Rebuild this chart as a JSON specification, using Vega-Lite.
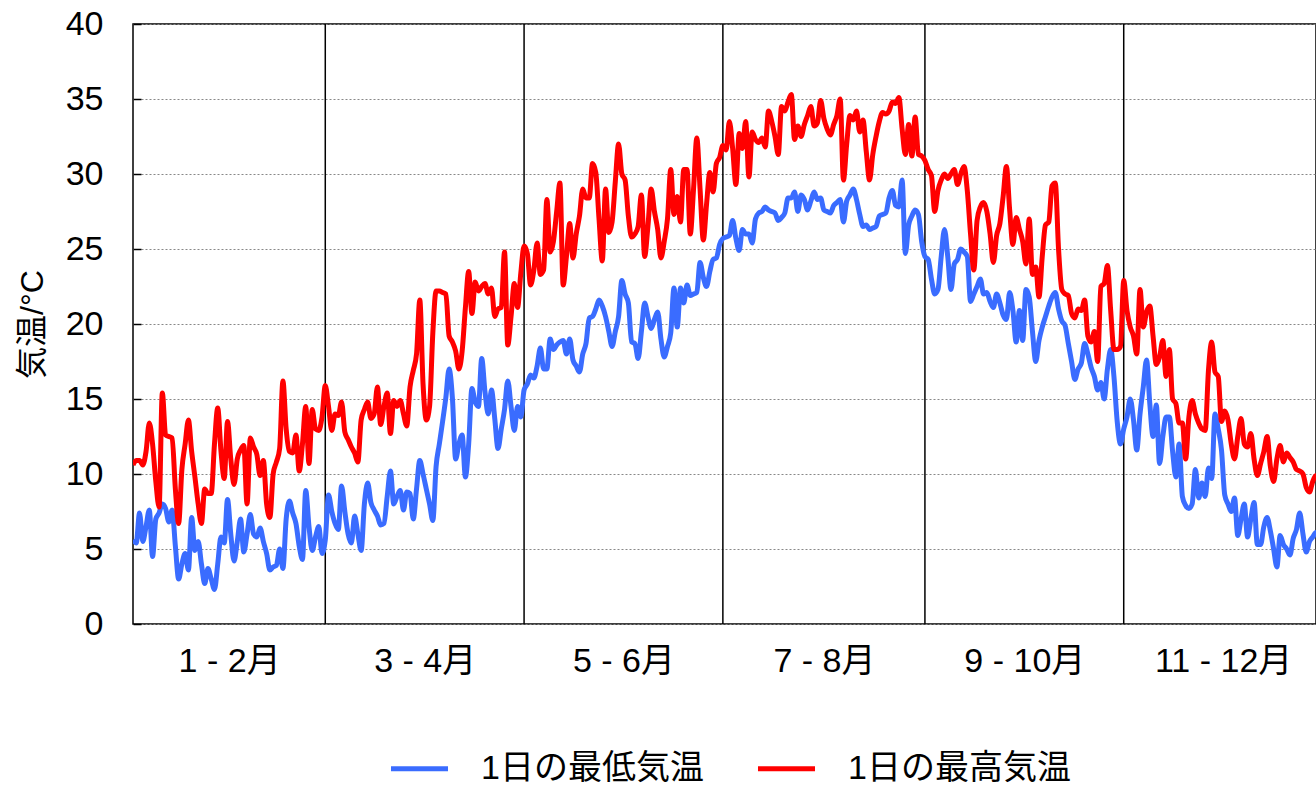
{
"$schema": "https://vega.github.io/schema/vega-lite/v6.json",
"width": 1183, "height": 600,
"autosize": {"type": "none"},
"padding": {"left": 133, "top": 24, "right": 0, "bottom": 163},
"background": "white",
"config": {"view": {"stroke": "black", "strokeWidth": 1.5}, "font": "Liberation Sans, Noto Sans CJK JP"},
"datasets": {
"seps": [{"d":59},{"d":120},{"d":181},{"d":243},{"d":304}],
"temps": [
{"d":0,"lo":5.6,"hi":10.6},{"d":1,"lo":5.4,"hi":10.9},{"d":2,"lo":7.4,"hi":10.9},{"d":3,"lo":5.5,"hi":10.6},{"d":4,"lo":6.5,"hi":11.5},{"d":5,"lo":7.6,"hi":13.4},{"d":6,"lo":4.5,"hi":12.0},{"d":7,"lo":7.0,"hi":9.5},{"d":8,"lo":7.4,"hi":7.8},{"d":9,"lo":8.0,"hi":15.4},
{"d":10,"lo":7.7,"hi":12.6},{"d":11,"lo":6.8,"hi":12.5},{"d":12,"lo":7.6,"hi":12.4},{"d":13,"lo":5.2,"hi":9.0},{"d":14,"lo":3.0,"hi":6.7},{"d":15,"lo":4.0,"hi":10.3},{"d":16,"lo":4.7,"hi":12.0},{"d":17,"lo":3.6,"hi":13.6},{"d":18,"lo":7.1,"hi":11.5},{"d":19,"lo":4.9,"hi":9.8},
{"d":20,"lo":5.5,"hi":8.0},{"d":21,"lo":4.0,"hi":6.7},{"d":22,"lo":2.7,"hi":9.0},{"d":23,"lo":3.7,"hi":8.7},{"d":24,"lo":3.0,"hi":8.7},{"d":25,"lo":2.3,"hi":12.0},{"d":26,"lo":4.0,"hi":14.4},{"d":27,"lo":5.8,"hi":11.5},{"d":28,"lo":5.4,"hi":9.7},{"d":29,"lo":8.3,"hi":13.5},
{"d":30,"lo":6.0,"hi":11.0},{"d":31,"lo":4.2,"hi":9.3},{"d":32,"lo":5.5,"hi":11.0},{"d":33,"lo":7.0,"hi":11.6},{"d":34,"lo":4.8,"hi":11.9},{"d":35,"lo":6.0,"hi":8.0},{"d":36,"lo":7.3,"hi":12.4},{"d":37,"lo":6.0,"hi":11.8},{"d":38,"lo":5.8,"hi":11.3},{"d":39,"lo":6.4,"hi":9.9},
{"d":40,"lo":5.5,"hi":10.9},{"d":41,"lo":4.7,"hi":8.0},{"d":42,"lo":3.6,"hi":7.1},{"d":43,"lo":3.8,"hi":10.0},{"d":44,"lo":3.9,"hi":10.8},{"d":45,"lo":5.0,"hi":11.7},{"d":46,"lo":3.7,"hi":16.2},{"d":47,"lo":7.0,"hi":13.0},{"d":48,"lo":8.2,"hi":11.5},{"d":49,"lo":7.4,"hi":11.4},
{"d":50,"lo":6.7,"hi":12.6},{"d":51,"lo":5.2,"hi":10.2},{"d":52,"lo":4.3,"hi":12.0},{"d":53,"lo":8.9,"hi":14.5},{"d":54,"lo":6.5,"hi":10.7},{"d":55,"lo":4.9,"hi":14.3},{"d":56,"lo":5.8,"hi":13.0},{"d":57,"lo":6.5,"hi":12.9},{"d":58,"lo":4.7,"hi":13.8},{"d":59,"lo":5.6,"hi":15.9},
{"d":60,"lo":8.6,"hi":14.5},{"d":61,"lo":7.5,"hi":12.9},{"d":62,"lo":6.7,"hi":14.0},{"d":63,"lo":6.3,"hi":13.9},{"d":64,"lo":9.2,"hi":14.8},{"d":65,"lo":7.5,"hi":12.8},{"d":66,"lo":6.0,"hi":12.3},{"d":67,"lo":5.4,"hi":11.8},{"d":68,"lo":7.2,"hi":11.4},{"d":69,"lo":6.0,"hi":10.8},
{"d":70,"lo":4.9,"hi":13.6},{"d":71,"lo":8.0,"hi":14.3},{"d":72,"lo":9.4,"hi":14.8},{"d":73,"lo":8.1,"hi":13.7},{"d":74,"lo":7.6,"hi":14.0},{"d":75,"lo":7.2,"hi":15.8},{"d":76,"lo":6.6,"hi":13.3},{"d":77,"lo":6.7,"hi":14.5},{"d":78,"lo":8.5,"hi":15.4},{"d":79,"lo":10.2,"hi":12.7},
{"d":80,"lo":8.0,"hi":14.9},{"d":81,"lo":8.5,"hi":14.5},{"d":82,"lo":8.9,"hi":14.9},{"d":83,"lo":7.6,"hi":14.0},{"d":84,"lo":8.8,"hi":13.2},{"d":85,"lo":8.7,"hi":15.8},{"d":86,"lo":7.0,"hi":16.9},{"d":87,"lo":9.0,"hi":18.0},{"d":88,"lo":10.9,"hi":21.6},{"d":89,"lo":10.0,"hi":16.0},
{"d":90,"lo":9.0,"hi":13.6},{"d":91,"lo":8.0,"hi":14.5},{"d":92,"lo":6.9,"hi":19.4},{"d":93,"lo":10.5,"hi":22.2},{"d":94,"lo":12.0,"hi":22.2},{"d":95,"lo":13.5,"hi":22.1},{"d":96,"lo":15.1,"hi":22.0},{"d":97,"lo":17.0,"hi":19.2},{"d":98,"lo":15.1,"hi":18.8},{"d":99,"lo":11.0,"hi":18.2},
{"d":100,"lo":12.0,"hi":17.0},{"d":101,"lo":12.6,"hi":18.2},{"d":102,"lo":9.8,"hi":21.1},{"d":103,"lo":12.0,"hi":23.5},{"d":104,"lo":15.7,"hi":20.7},{"d":105,"lo":14.8,"hi":22.8},{"d":106,"lo":14.5,"hi":22.2},{"d":107,"lo":17.7,"hi":22.5},{"d":108,"lo":15.5,"hi":22.7},{"d":109,"lo":14.0,"hi":22.0},
{"d":110,"lo":15.6,"hi":22.4},{"d":111,"lo":13.7,"hi":20.5},{"d":112,"lo":11.7,"hi":21.0},{"d":113,"lo":13.0,"hi":21.1},{"d":114,"lo":14.3,"hi":24.8},{"d":115,"lo":16.2,"hi":18.6},{"d":116,"lo":14.5,"hi":20.5},{"d":117,"lo":12.9,"hi":22.7},{"d":118,"lo":14.5,"hi":21.1},{"d":119,"lo":13.8,"hi":23.4},
{"d":120,"lo":15.6,"hi":25.2},{"d":121,"lo":16.0,"hi":24.7},{"d":122,"lo":16.6,"hi":22.6},{"d":123,"lo":16.4,"hi":23.6},{"d":124,"lo":17.2,"hi":25.4},{"d":125,"lo":18.4,"hi":23.3},{"d":126,"lo":17.0,"hi":23.6},{"d":127,"lo":17.0,"hi":28.3},{"d":128,"lo":19.0,"hi":24.8},{"d":129,"lo":18.3,"hi":25.5},
{"d":130,"lo":18.6,"hi":27.5},{"d":131,"lo":18.8,"hi":29.4},{"d":132,"lo":18.9,"hi":22.6},{"d":133,"lo":18.0,"hi":24.5},{"d":134,"lo":19.0,"hi":26.7},{"d":135,"lo":17.6,"hi":24.4},{"d":136,"lo":17.2,"hi":26.0},{"d":137,"lo":16.8,"hi":27.2},{"d":138,"lo":18.0,"hi":29.0},{"d":139,"lo":18.7,"hi":28.4},
{"d":140,"lo":20.4,"hi":28.4},{"d":141,"lo":20.5,"hi":30.7},{"d":142,"lo":21.0,"hi":30.1},{"d":143,"lo":21.6,"hi":27.0},{"d":144,"lo":21.2,"hi":24.2},{"d":145,"lo":20.5,"hi":29.0},{"d":146,"lo":19.5,"hi":26.1},{"d":147,"lo":18.5,"hi":26.8},{"d":148,"lo":19.5,"hi":29.5},{"d":149,"lo":20.5,"hi":32.0},
{"d":150,"lo":22.9,"hi":30.0},{"d":151,"lo":22.0,"hi":29.6},{"d":152,"lo":21.4,"hi":27.2},{"d":153,"lo":18.8,"hi":25.8},{"d":154,"lo":18.7,"hi":26.0},{"d":155,"lo":17.7,"hi":26.5},{"d":156,"lo":19.5,"hi":28.6},{"d":157,"lo":21.4,"hi":24.5},{"d":158,"lo":20.5,"hi":26.5},{"d":159,"lo":19.7,"hi":29.0},
{"d":160,"lo":20.3,"hi":27.5},{"d":161,"lo":20.8,"hi":26.3},{"d":162,"lo":19.0,"hi":24.4},{"d":163,"lo":17.8,"hi":25.5},{"d":164,"lo":18.5,"hi":27.0},{"d":165,"lo":19.4,"hi":30.3},{"d":166,"lo":22.4,"hi":27.3},{"d":167,"lo":19.8,"hi":28.5},{"d":168,"lo":22.4,"hi":26.8},{"d":169,"lo":21.4,"hi":30.3},
{"d":170,"lo":22.6,"hi":30.3},{"d":171,"lo":21.9,"hi":26.0},{"d":172,"lo":22.0,"hi":29.0},{"d":173,"lo":22.1,"hi":32.4},{"d":174,"lo":24.1,"hi":29.0},{"d":175,"lo":23.1,"hi":25.6},{"d":176,"lo":22.5,"hi":28.0},{"d":177,"lo":23.5,"hi":30.1},{"d":178,"lo":24.3,"hi":28.8},{"d":179,"lo":24.4,"hi":30.7},
{"d":180,"lo":25.3,"hi":31.1},{"d":181,"lo":25.7,"hi":31.9},{"d":182,"lo":25.8,"hi":31.6},{"d":183,"lo":25.9,"hi":33.5},{"d":184,"lo":26.9,"hi":31.7},{"d":185,"lo":25.7,"hi":29.3},{"d":186,"lo":24.9,"hi":32.7},{"d":187,"lo":26.3,"hi":31.7},{"d":188,"lo":26.0,"hi":33.5},{"d":189,"lo":26.0,"hi":29.8},
{"d":190,"lo":25.4,"hi":32.8},{"d":191,"lo":27.0,"hi":32.3},{"d":192,"lo":27.4,"hi":32.1},{"d":193,"lo":27.5,"hi":32.4},{"d":194,"lo":27.8,"hi":31.8},{"d":195,"lo":27.6,"hi":34.2},{"d":196,"lo":27.5,"hi":33.5},{"d":197,"lo":27.4,"hi":32.5},{"d":198,"lo":26.9,"hi":31.3},{"d":199,"lo":27.1,"hi":34.5},
{"d":200,"lo":27.4,"hi":34.2},{"d":201,"lo":28.4,"hi":34.8},{"d":202,"lo":28.4,"hi":35.3},{"d":203,"lo":28.8,"hi":32.3},{"d":204,"lo":27.5,"hi":33.2},{"d":205,"lo":28.6,"hi":32.5},{"d":206,"lo":28.3,"hi":33.3},{"d":207,"lo":27.6,"hi":33.9},{"d":208,"lo":28.2,"hi":34.5},{"d":209,"lo":28.8,"hi":33.2},
{"d":210,"lo":28.3,"hi":33.4},{"d":211,"lo":28.4,"hi":34.9},{"d":212,"lo":27.6,"hi":33.7},{"d":213,"lo":27.5,"hi":33.0},{"d":214,"lo":27.4,"hi":32.6},{"d":215,"lo":27.9,"hi":33.3},{"d":216,"lo":28.1,"hi":33.9},{"d":217,"lo":28.3,"hi":35.0},{"d":218,"lo":26.8,"hi":29.6},{"d":219,"lo":28.2,"hi":32.0},
{"d":220,"lo":28.6,"hi":33.9},{"d":221,"lo":29.0,"hi":33.6},{"d":222,"lo":28.3,"hi":34.2},{"d":223,"lo":27.3,"hi":32.8},{"d":224,"lo":26.5,"hi":33.6},{"d":225,"lo":26.6,"hi":31.5},{"d":226,"lo":26.3,"hi":29.6},{"d":227,"lo":26.4,"hi":31.3},{"d":228,"lo":26.5,"hi":32.5},{"d":229,"lo":27.2,"hi":33.5},
{"d":230,"lo":27.3,"hi":34.1},{"d":231,"lo":27.4,"hi":34.0},{"d":232,"lo":28.4,"hi":34.2},{"d":233,"lo":28.9,"hi":34.8},{"d":234,"lo":27.9,"hi":34.7},{"d":235,"lo":27.8,"hi":35.1},{"d":236,"lo":29.6,"hi":33.0},{"d":237,"lo":24.7,"hi":31.3},{"d":238,"lo":26.6,"hi":33.3},{"d":239,"lo":27.2,"hi":31.2},
{"d":240,"lo":27.6,"hi":33.8},{"d":241,"lo":27.3,"hi":31.3},{"d":242,"lo":25.5,"hi":31.2},{"d":243,"lo":24.5,"hi":30.9},{"d":244,"lo":24.3,"hi":30.3},{"d":245,"lo":23.0,"hi":29.9},{"d":246,"lo":22.0,"hi":27.5},{"d":247,"lo":22.3,"hi":28.9},{"d":248,"lo":24.5,"hi":29.6},{"d":249,"lo":26.3,"hi":30.0},
{"d":250,"lo":24.5,"hi":29.7},{"d":251,"lo":22.3,"hi":30.0},{"d":252,"lo":24.0,"hi":30.3},{"d":253,"lo":24.3,"hi":29.3},{"d":254,"lo":25.0,"hi":30.0},{"d":255,"lo":24.8,"hi":30.5},{"d":256,"lo":24.5,"hi":28.9},{"d":257,"lo":21.5,"hi":26.0},{"d":258,"lo":22.0,"hi":23.6},{"d":259,"lo":22.5,"hi":26.9},
{"d":260,"lo":23.0,"hi":27.8},{"d":261,"lo":22.0,"hi":28.1},{"d":262,"lo":22.1,"hi":27.5},{"d":263,"lo":21.5,"hi":26.0},{"d":264,"lo":21.1,"hi":24.1},{"d":265,"lo":22.0,"hi":25.9},{"d":266,"lo":21.4,"hi":26.7},{"d":267,"lo":20.6,"hi":28.5},{"d":268,"lo":20.3,"hi":30.5},{"d":269,"lo":22.1,"hi":27.6},
{"d":270,"lo":20.9,"hi":25.3},{"d":271,"lo":18.8,"hi":27.1},{"d":272,"lo":20.9,"hi":26.3},{"d":273,"lo":18.9,"hi":25.5},{"d":274,"lo":22.3,"hi":24.0},{"d":275,"lo":21.8,"hi":27.0},{"d":276,"lo":19.5,"hi":23.3},{"d":277,"lo":17.5,"hi":23.8},{"d":278,"lo":18.9,"hi":21.8},{"d":279,"lo":19.8,"hi":24.5},
{"d":280,"lo":20.5,"hi":26.6},{"d":281,"lo":21.2,"hi":26.8},{"d":282,"lo":21.8,"hi":29.2},{"d":283,"lo":22.1,"hi":29.4},{"d":284,"lo":21.0,"hi":25.0},{"d":285,"lo":20.2,"hi":22.3},{"d":286,"lo":19.9,"hi":22.0},{"d":287,"lo":18.7,"hi":21.9},{"d":288,"lo":17.5,"hi":20.7},{"d":289,"lo":16.3,"hi":20.4},
{"d":290,"lo":17.0,"hi":21.0},{"d":291,"lo":17.4,"hi":20.9},{"d":292,"lo":18.7,"hi":21.6},{"d":293,"lo":18.0,"hi":19.2},{"d":294,"lo":17.1,"hi":18.8},{"d":295,"lo":16.5,"hi":19.5},{"d":296,"lo":15.6,"hi":17.5},{"d":297,"lo":16.1,"hi":22.5},{"d":298,"lo":15.0,"hi":22.7},{"d":299,"lo":17.0,"hi":23.9},
{"d":300,"lo":18.3,"hi":20.9},{"d":301,"lo":16.5,"hi":18.3},{"d":302,"lo":13.5,"hi":18.3},{"d":303,"lo":12.0,"hi":18.5},{"d":304,"lo":13.0,"hi":22.9},{"d":305,"lo":13.8,"hi":20.9},{"d":306,"lo":15.0,"hi":19.8},{"d":307,"lo":13.6,"hi":19.2},{"d":308,"lo":11.6,"hi":18.0},{"d":309,"lo":14.0,"hi":22.3},
{"d":310,"lo":15.8,"hi":19.8},{"d":311,"lo":17.6,"hi":20.8},{"d":312,"lo":14.7,"hi":21.2},{"d":313,"lo":12.5,"hi":19.2},{"d":314,"lo":14.6,"hi":17.3},{"d":315,"lo":10.7,"hi":17.8},{"d":316,"lo":12.5,"hi":18.9},{"d":317,"lo":13.8,"hi":16.5},{"d":318,"lo":13.8,"hi":18.3},{"d":319,"lo":11.5,"hi":15.0},
{"d":320,"lo":9.8,"hi":14.7},{"d":321,"lo":12.0,"hi":13.4},{"d":322,"lo":8.5,"hi":13.4},{"d":323,"lo":7.9,"hi":11.0},{"d":324,"lo":7.7,"hi":13.8},{"d":325,"lo":8.0,"hi":14.9},{"d":326,"lo":10.3,"hi":14.0},{"d":327,"lo":8.4,"hi":13.4},{"d":328,"lo":9.4,"hi":13.0},{"d":329,"lo":8.5,"hi":12.9},
{"d":330,"lo":10.4,"hi":16.9},{"d":331,"lo":9.7,"hi":18.8},{"d":332,"lo":14.0,"hi":16.8},{"d":333,"lo":13.0,"hi":16.5},{"d":334,"lo":11.6,"hi":13.5},{"d":335,"lo":8.6,"hi":14.2},{"d":336,"lo":8.0,"hi":13.6},{"d":337,"lo":7.5,"hi":12.0},{"d":338,"lo":8.4,"hi":11.0},{"d":339,"lo":5.9,"hi":12.5},
{"d":340,"lo":7.0,"hi":13.7},{"d":341,"lo":8.0,"hi":12.0},{"d":342,"lo":5.8,"hi":11.8},{"d":343,"lo":7.0,"hi":12.7},{"d":344,"lo":8.1,"hi":11.0},{"d":345,"lo":5.3,"hi":9.9},{"d":346,"lo":5.3,"hi":10.7},{"d":347,"lo":6.5,"hi":11.5},{"d":348,"lo":7.1,"hi":12.5},{"d":349,"lo":6.2,"hi":10.5},
{"d":350,"lo":5.0,"hi":9.5},{"d":351,"lo":3.8,"hi":11.0},{"d":352,"lo":5.9,"hi":11.9},{"d":353,"lo":5.3,"hi":10.8},{"d":354,"lo":5.0,"hi":11.4},{"d":355,"lo":4.6,"hi":11.1},{"d":356,"lo":5.7,"hi":10.8},{"d":357,"lo":6.3,"hi":10.3},{"d":358,"lo":7.4,"hi":10.2},{"d":359,"lo":6.0,"hi":10.0},
{"d":360,"lo":4.8,"hi":9.1},{"d":361,"lo":5.5,"hi":8.8},{"d":362,"lo":5.8,"hi":9.5},{"d":363,"lo":6.1,"hi":9.9},{"d":364,"lo":6.0,"hi":9.5}
]},
"encoding": {
"x": {"field": "d", "type": "quantitative",
 "scale": {"domain": [0, 363], "nice": false, "zero": false},
 "axis": {"values": [29.5, 89.5, 150.5, 212, 273.5, 334.5],
  "labelExpr": "datum.value < 60 ? '1 - 2月' : datum.value < 120 ? '3 - 4月' : datum.value < 181 ? '5 - 6月' : datum.value < 243 ? '7 - 8月' : datum.value < 304 ? '9 - 10月' : '11 - 12月'",
  "ticks": false, "domain": false, "grid": false, "labelFontSize": 34, "labelColor": "black", "labelPadding": 20, "title": null, "labelFlush": false, "labelOverlap": false}}
},
"layer": [
{"data": {"name": "seps"}, "mark": {"type": "rule", "color": "black", "strokeWidth": 1.5}, "encoding": {}},
{"data": {"name": "temps"},
 "transform": [{"fold": ["lo", "hi"], "as": ["series", "temp"]}],
 "mark": {"type": "line", "strokeWidth": 5, "clip": true, "strokeJoin": "round", "interpolate": "monotone"},
 "encoding": {
  "y": {"field": "temp", "type": "quantitative", "scale": {"domain": [0, 40], "nice": false},
   "axis": {"values": [0,5,10,15,20,25,30,35,40], "grid": true, "gridColor": "#888888", "gridDash": [2, 2], "gridWidth": 1,
    "domain": false, "ticks": true, "tickSize": -8, "tickColor": "black", "tickWidth": 1.5,
    "labelFontSize": 34, "labelColor": "black", "labelPadding": 38,
    "title": "気温/°C", "titleFontSize": 32, "titleFontWeight": "normal", "titleColor": "black", "titlePadding": 16}},
  "color": {"field": "series", "type": "nominal",
   "scale": {"domain": ["lo", "hi"], "range": ["#3A6CFF", "#FF0000"]},
   "legend": {"orient": "none", "legendX": 255, "legendY": 713, "direction": "horizontal", "title": null,
    "symbolType": "stroke", "symbolStrokeWidth": 5, "symbolSize": 3250, "labelFontSize": 34, "labelColor": "black",
    "labelOffset": 30, "columnPadding": 43, "labelLimit": 400,
    "labelExpr": "datum.label == 'lo' ? '1日の最低気温' : '1日の最高気温'"}}
 }}
]
}
